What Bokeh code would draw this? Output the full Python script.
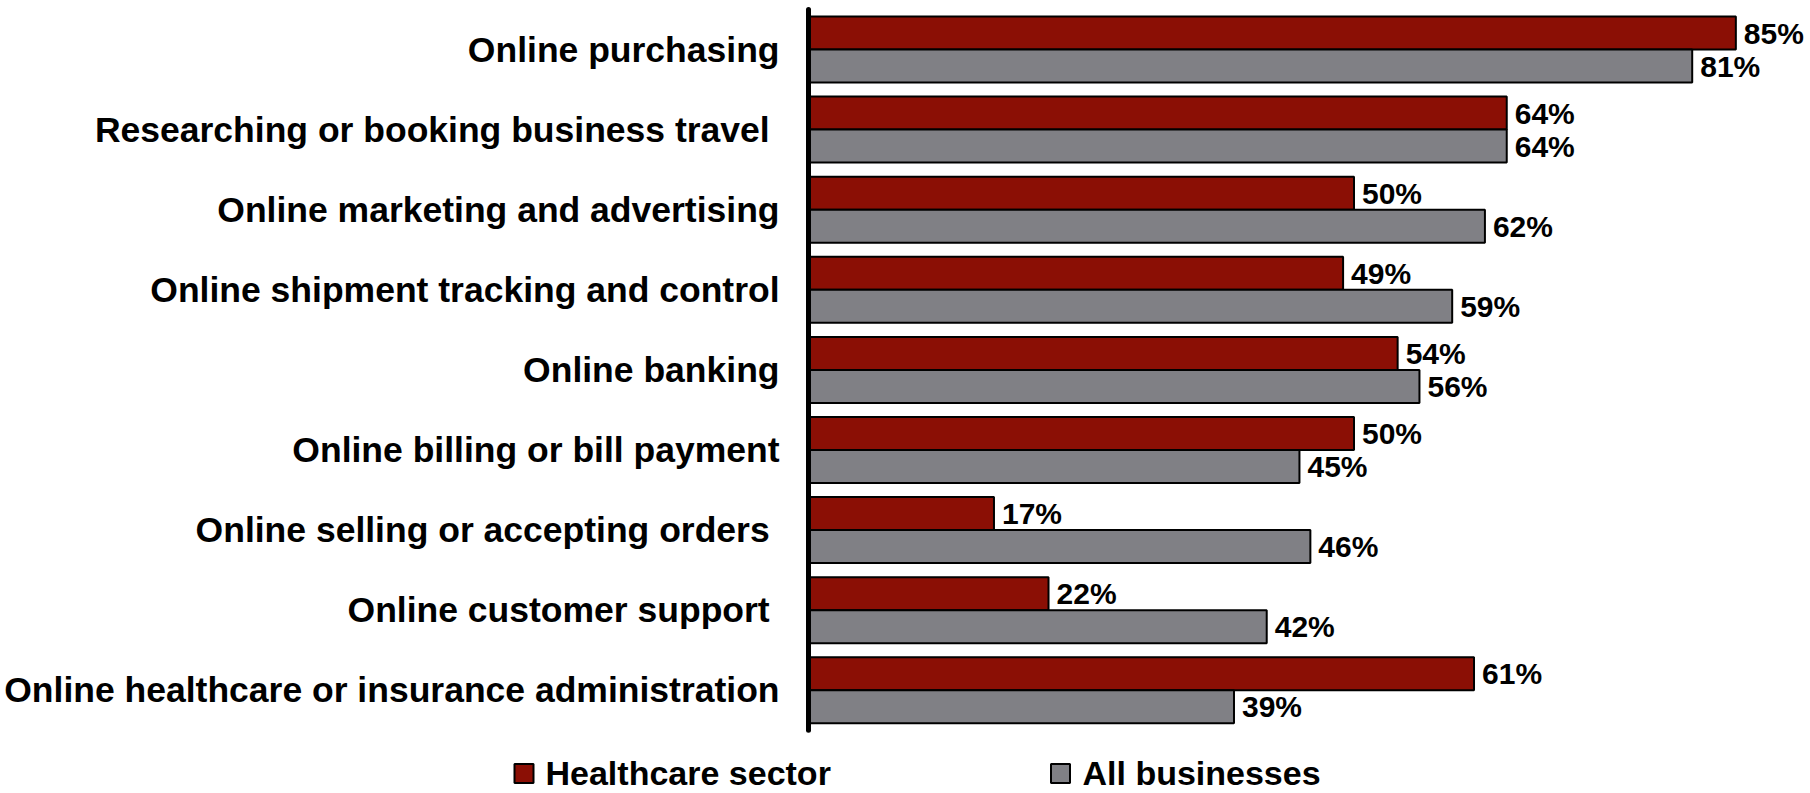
from bokeh.plotting import figure
from bokeh.models import Range1d, ColumnDataSource
from bokeh.core.properties import value
from bokeh.embed import file_html
from bokeh.resources import INLINE

# ---- data ----
categories = [
    "Online purchasing",
    "Researching or booking business travel ",
    "Online marketing and advertising",
    "Online shipment tracking and control",
    "Online banking",
    "Online billing or bill payment",
    "Online selling or accepting orders ",
    "Online customer support ",
    "Online healthcare or insurance administration",
]
healthcare = [85, 64, 50, 49, 54, 50, 17, 22, 61]
all_businesses = [81, 64, 62, 59, 56, 45, 46, 42, 39]
series_names = ["Healthcare sector", "All businesses"]
series_colors = ["#8B0F05", "#808085"]

# ---- layout (pixels) ----
W, H = 1810, 793
AXIS_PX = 808          # x pixel of the value 0
PX_PER_PCT = 10.91
BAND = 80.1            # px per category
TOP_CENTER = 49        # px of the first category centre
FONT = "Liberation Sans"

x0 = -AXIS_PX / PX_PER_PCT
x1 = (W - AXIS_PX) / PX_PER_PCT
n = len(categories)
ytop = (n - 1) + TOP_CENTER / BAND
ybot = ytop - H / BAND


def xpx(px):
    return (px - AXIS_PX) / PX_PER_PCT


def ypx(px):
    return ytop - px / BAND


p = figure(width=W, height=H, output_backend="svg", toolbar_location=None,
           x_range=Range1d(x0, x1), y_range=Range1d(ybot, ytop),
           min_border=0, min_border_left=0, min_border_right=0,
           min_border_top=0, min_border_bottom=0)
p.axis.visible = False
p.grid.visible = False
p.outline_line_color = None
p.background_fill_color = "white"
p.border_fill_color = "white"

ypos = [n - 1 - i for i in range(n)]
bar_h = 33 / BAND
off = bar_h / 2

src = ColumnDataSource(dict(
    cat=categories, y=ypos,
    y_h=[y + off for y in ypos], y_a=[y - off for y in ypos],
    hc=healthcare, ab=all_businesses,
    hc_lbl=[f"{v}%" for v in healthcare],
    ab_lbl=[f"{v}%" for v in all_businesses],
))

p.hbar(y="y_h", left=0, right="hc", height=bar_h, source=src,
       fill_color=series_colors[0], line_color="black", line_width=2)
p.hbar(y="y_a", left=0, right="ab", height=bar_h, source=src,
       fill_color=series_colors[1], line_color="black", line_width=2)

# value labels
for col, ycol in (("hc", "y_h"), ("ab", "y_a")):
    p.text(x=col, y=ycol, text=col + "_lbl", source=src, x_offset=8,
           text_align="left", text_baseline="middle",
           text_font=value(FONT), text_font_style="bold",
           text_font_size="30px", text_color="black")

# category labels (the y axis)
p.text(x=xpx(779), y="y", text="cat", source=src,
       text_align="right", text_baseline="middle",
       text_font=value(FONT), text_font_style="bold",
       text_font_size="35.5px", text_color="black")

# axis line
p.segment(x0=[0], y0=[-0.5], x1=[0], y1=[n - 0.5],
          line_color="black", line_width=5, line_cap="round")

# legend
sq_y = ypx(773)
txt_y = ypx(772)
sq_px = [523.5, 1060]
txt_px = [545, 1082]
for name, color, sx, tx in zip(series_names, series_colors, sq_px, txt_px):
    p.rect(x=[xpx(sx)], y=[sq_y], width=19, height=19,
           width_units="screen", height_units="screen",
           fill_color=color, line_color="black", line_width=2)
    p.text(x=[xpx(tx)], y=[txt_y], text=[name],
           text_align="left", text_baseline="middle",
           text_font=value(FONT), text_font_style="bold",
           text_font_size="34px", text_color="black")

open("out.html", "w").write(file_html(p, INLINE))
